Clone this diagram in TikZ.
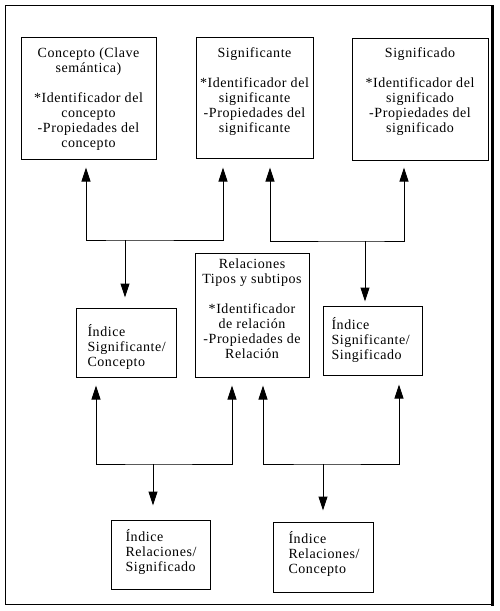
\documentclass[tikz,border=0pt]{standalone}
\usepackage{fontspec}
\setmainfont{Liberation Serif}[LetterSpace=4]
\usetikzlibrary{arrows.meta}
\begin{document}
\begin{tikzpicture}[x=1pt,y=1pt,line width=1pt,
  box/.style={draw,inner sep=0pt,line width=1pt},
  txt/.style={inner sep=0pt,font=\fontsize{14}{15}\selectfont},
  ctxt/.style={txt,align=center,anchor=north},
  ltxt/.style={txt,align=left,anchor=west},
  tip/.style={-{Triangle[width=9pt,length=14pt]}},
  dbl/.style={{Triangle[width=9pt,length=14pt]}-{Triangle[width=9pt,length=14pt]}}]
\useasboundingbox (0,0) rectangle (499,-611);
% frame
\draw (5,-5) rectangle (491,-604);
\draw[line width=3pt] (492,-5) -- (492,-605.5);
% top boxes
\node[box,minimum width=135pt,minimum height=122pt] (c) at (88.5,-98) {};
\node[ctxt] (ct) at (88.5,-47) {Concepto (Clave\\semántica)\\[15pt]*Identificador del\\concepto\\-Propiedades del\\concepto};
\node[box,minimum width=117pt,minimum height=121pt] (s) at (254.5,-97.5) {};
\node[ctxt] (st) at (254.5,-47) {Significante\\[15pt]*Identificador del\\significante\\-Propiedades del\\significante};
\node[box,minimum width=136pt,minimum height=122pt] (g) at (420,-99) {};
\node[ctxt] (gt) at (420,-47) {Significado\\[15pt]*Identificador del\\significado\\-Propiedades del\\significado};
% middle
\node[box,minimum width=100pt,minimum height=69pt] (i1) at (126,-342.5) {};
\node[ltxt] (i1t) at (87,-347) {Índice\\Significante/\\Concepto};
\node[box,minimum width=114pt,minimum height=124pt] (r) at (252,-315) {};
\node[ctxt] (rt) at (252,-258) {Relaciones\\Tipos y subtipos\\[15pt]*Identificador\\de relación\\-Propiedades de\\Relación};
\node[box,minimum width=99pt,minimum height=69pt] (i2) at (372.5,-340.5) {};
\node[ltxt] (i2t) at (331,-340) {Índice\\Significante/\\Singificado};
% bottom
\node[box,minimum width=99pt,minimum height=69pt] (i3) at (160.5,-554.5) {};
\node[ltxt] (i3t) at (125,-551.5) {Índice\\Relaciones/\\Significado};
\node[box,minimum width=100pt,minimum height=70pt] (i4) at (323,-557) {};
\node[ltxt] (i4t) at (288,-554) {Índice\\Relaciones/\\Concepto};
% junctions
\coordinate (ja) at (125,-240);
\coordinate (jb) at (365,-241);
\coordinate (jc) at (153,-464);
\coordinate (jd) at (323,-464);
% group A
\draw[dbl] ([xshift=-2.5pt,yshift=-8pt]c.south) |- (ja) -| ([xshift=-31.5pt,yshift=-9pt]s.south);
\draw[tip] (ja) -- ([xshift=-1pt,yshift=10pt]i1.north);
% group B
\draw[dbl] ([xshift=15.5pt,yshift=-9pt]s.south) |- (jb) -| ([xshift=-16pt,yshift=-7pt]g.south);
\draw[tip] (jb) -- ([xshift=-7.5pt,yshift=4pt]i2.north);
% group C
\draw[dbl] ([xshift=-30pt,yshift=-8pt]i1.south) |- (jc) -| ([xshift=-20pt,yshift=-8pt]r.south);
\draw[tip] (jc) -- ([xshift=-7.5pt,yshift=14pt]i3.north);
% group D
\draw[dbl] ([xshift=11pt,yshift=-8pt]r.south) |- (jd) -| ([xshift=26.5pt,yshift=-9pt]i2.south);
\draw[tip] (jd) -- ([yshift=11pt]i4.north);
\end{tikzpicture}
\end{document}
